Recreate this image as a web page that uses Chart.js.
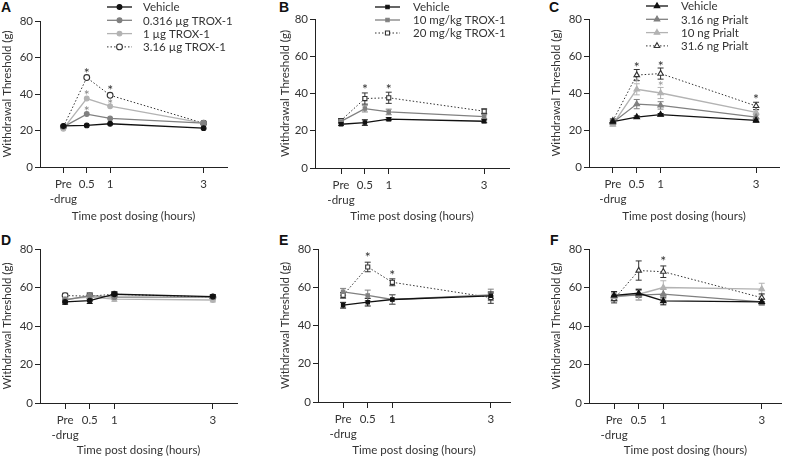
<!DOCTYPE html>
<html>
<head>
<meta charset="utf-8">
<script src="https://cdn.jsdelivr.net/npm/chart.js@4.4.0/dist/chart.umd.min.js"></script>
<style>
    body { margin: 0; background: #fff; width: 787px; height: 459px; position: relative; overflow: hidden; }
    canvas { position: absolute; }
    .tag { position: absolute; font: bold 14px 'Liberation Sans', Arial, sans-serif; line-height: 14px; color: #111; }
</style>
</head>
<body>
<div class="tag" style="left:1px;top:0px">A</div>
<div class="tag" style="left:279px;top:0px">B</div>
<div class="tag" style="left:549px;top:0px">C</div>
<div class="tag" style="left:1px;top:233px">D</div>
<div class="tag" style="left:279px;top:233px">E</div>
<div class="tag" style="left:550px;top:233px">F</div>
<canvas id="chartA"></canvas>
<canvas id="chartB"></canvas>
<canvas id="chartC"></canvas>
<canvas id="chartD"></canvas>
<canvas id="chartE"></canvas>
<canvas id="chartF"></canvas>
<script>
// Withdrawal threshold figure - six panels

// x positions and tick labels
const timePoints = [0, 0.5, 1, 3];
const tickText = { '0': ['Pre', '-drug'], '0.5': '0.5', '1': '1', '3': '3' };
const yTicks = [0, 20, 40, 60, 80];

// legend labels
const troxItLabels = ['Vehicle', '0.316 µg TROX-1', '1 µg TROX-1', '3.16 µg TROX-1'];
const troxPoLabels = ['Vehicle', '10 mg/kg TROX-1', '20 mg/kg TROX-1'];
const prialtLabels = ['Vehicle', '3.16 ng Prialt', '10 ng Prialt', '31.6 ng Prialt'];

// Panel A
const aVehicle = [22.5, 22.8, 23.7, 21.3];
const aLow = [22, 29, 26.6, 24];
const aMid = [21, 37.5, 33.3, 24];
const aHigh = [22, 49, 39.3, 24];
const aStars = [[0.5, 53, '#333'], [0.5, 41, '#888'], [0.5, 32.3, '#888'], [1, 43.3, '#333'], [1, 35.8, '#888']];

// Panel B
const bVehicle = [23.5, 24.4, 26.2, 25.1];
const bLow = [25, 31.9, 30.1, 27.6];
const bHigh = [25.5, 37.3, 37.7, 30.5];
const bVehicleErr = [0.6, 1.5, 0.8, 0.8];
const bLowErr = [0.8, 1.8, 1.5, 1];
const bHighErr = [1, 3, 3, 1.2];
const bStars = [[0.5, 43.5, '#333'], [1, 43.5, '#333']];

// Panel C
const cVehicle = [24.5, 27, 28.3, 25.2];
const cLow = [24, 34, 33.3, 27];
const cMid = [23, 42, 40, 29.5];
const cHigh = [25, 49.7, 50.5, 33];
const cVehicleErr = [0.8, 0.6, 0.6, 1];
const cLowErr = [1, 2.5, 2, 1.2];
const cMidErr = [1, 3, 3, 1.5];
const cHighErr = [1, 3, 3, 2];
const cStars = [[0.5, 55.5, '#333'], [0.5, 46.5, '#999'], [1, 56, '#333'], [1, 45, '#999'], [3, 38, '#333']];

// Panel D
const dVehicle = [52.5, 53.2, 56.5, 55.3];
const dLow = [53.5, 55.8, 55, 55];
const dMid = [54, 55, 54, 53.5];
const dHigh = [55.8, 55.5, 56.5, 55];
const dErr = [1.2, 1.5, 1.2, 1];

// Panel E
const eVehicle = [50.6, 52.2, 53.6, 55.5];
const eLow = [57.6, 55.7, 53.6, 56];
const eHigh = [55.8, 70.6, 62.6, 54.6];
const eVehicleErr = [1.5, 2, 2.5, 1.5];
const eLowErr = [1.8, 2.8, 2.5, 3];
const eHighErr = [1.5, 2.5, 1.8, 3];
const eStars = [[0.5, 77, '#333'], [1, 67.8, '#333']];

// Panel F
const fVehicle = [55.9, 57, 53, 52.5];
const fLow = [55.5, 56, 56.6, 52.5];
const fMid = [55, 56.5, 60, 59.2];
const fHigh = [54, 68.8, 68.2, 54.7];
const fVehicleErr = [2, 2, 2, 1.5];
const fLowErr = [2, 2.5, 2.5, 1.5];
const fMidErr = [2, 3, 3.5, 3];
const fHighErr = [2, 5, 3, 2];
const fStars = [[1, 75, '#333']];

// series looks: solid black, dark grey, light grey, open with dotted line
const looks = [
    { color: '#111111', fill: '#111111', dash: [], width: 1.3 },
    { color: '#808080', fill: '#808080', dash: [], width: 1.3 },
    { color: '#b3b3b3', fill: '#b3b3b3', dash: [], width: 1.3 },
    { color: '#333333', fill: '#ffffff', dash: [1.5, 2], width: 1 }
];

const font = "Lato, 'Open Sans', sans-serif";
Chart.defaults.font.family = font;
Chart.defaults.color = '#333';

function series(label, values, errs, look, shape) {
    const l = looks[look];
    const r = shape === 'triangle' ? 3.2 : (look === 3 ? 2.9 : 2.4);
    return {
        label: label,
        data: timePoints.map((t, i) => ({ x: t, y: values[i] })),
        errors: errs,
        borderColor: l.color,
        backgroundColor: l.fill,
        borderDash: l.dash,
        borderWidth: l.width,
        pointStyle: shape,
        pointRadius: r,
        pointBorderWidth: 1.1,
        pointBorderColor: l.color,
        pointBackgroundColor: l.fill,
        tension: 0,
        fill: false
    };
}

// error bars under the markers
const errorBars = {
    id: 'errorBars',
    beforeDatasetsDraw(chart) {
        const { ctx, scales: { x, y } } = chart;
        chart.data.datasets.forEach(ds => {
            if (!ds.errors) return;
            ctx.save();
            ctx.strokeStyle = ds.borderColor;
            ctx.lineWidth = 1;
            ds.data.forEach((p, j) => {
                const e = ds.errors[j];
                if (!e) return;
                const px = x.getPixelForValue(p.x);
                const y1 = y.getPixelForValue(p.y + e);
                const y2 = y.getPixelForValue(p.y - e);
                ctx.beginPath();
                ctx.moveTo(px, y1); ctx.lineTo(px, y2);
                ctx.moveTo(px - 3, y1); ctx.lineTo(px + 3, y1);
                ctx.moveTo(px - 3, y2); ctx.lineTo(px + 3, y2);
                ctx.stroke();
            });
            ctx.restore();
        });
    }
};

// significance asterisks
const stars = {
    id: 'stars',
    afterDatasetsDraw(chart, args, opts) {
        if (!opts.marks) return;
        const { ctx, scales: { x, y } } = chart;
        ctx.save();
        ctx.font = '14px ' + font;
        ctx.textAlign = 'center';
        ctx.textBaseline = 'middle';
        opts.marks.forEach(m => {
            ctx.fillStyle = m[2];
            ctx.fillText('*', x.getPixelForValue(m[0]), y.getPixelForValue(m[1]) + 3);
        });
        ctx.restore();
    }
};

// small legend drawn inside the panel
const miniLegend = {
    id: 'miniLegend',
    afterDraw(chart, args, opts) {
        if (!opts.show) return;
        const ctx = chart.ctx;
        ctx.save();
        chart.data.datasets.forEach((ds, i) => {
            const yy = opts.y + i * opts.step;
            ctx.strokeStyle = ds.borderColor;
            ctx.lineWidth = ds.borderWidth;
            ctx.setLineDash(ds.borderDash);
            ctx.beginPath();
            ctx.moveTo(opts.x1, yy);
            ctx.lineTo(opts.x2, yy);
            ctx.stroke();
            ctx.setLineDash([]);
            ctx.fillStyle = ds.pointBackgroundColor;
            ctx.strokeStyle = ds.pointBorderColor;
            ctx.lineWidth = 1.1;
            Chart.helpers.drawPoint(ctx, { pointStyle: ds.pointStyle, radius: ds.pointRadius, borderWidth: 1.1, rotation: 0 }, (opts.x1 + opts.x2) / 2, yy);
            ctx.fillStyle = '#333';
            ctx.font = '11.5px ' + font;
            ctx.textAlign = 'left';
            ctx.textBaseline = 'middle';
            ctx.fillText(ds.label, opts.tx, yy + 0.5);
        });
        ctx.restore();
    }
};

function makePanel(id, p, datasets, marks, legend) {
    const canvas = document.getElementById(id);
    canvas.width = p.w;
    canvas.height = p.h;
    canvas.style.left = p.left + 'px';
    canvas.style.top = p.top + 'px';
    return new Chart(canvas, {
        type: 'line',
        data: { datasets: datasets },
        plugins: [errorBars, stars, miniLegend],
        options: {
            responsive: false,
            animation: false,
            layout: { padding: { left: 0, top: p.area[1], right: p.w - p.area[2], bottom: 0 } },
            plugins: {
                legend: { display: false },
                tooltip: { enabled: false },
                stars: { marks: marks },
                miniLegend: legend || { show: false }
            },
            scales: {
                x: {
                    type: 'linear',
                    min: p.xMin,
                    max: p.xMax,
                    afterBuildTicks: s => { s.ticks = timePoints.map(v => ({ value: v })); },
                    afterFit: s => { s.height = p.h - p.area[3]; },
                    ticks: {
                        callback: v => tickText[String(v)],
                        autoSkip: false,
                        maxRotation: 0,
                        padding: 4,
                        color: '#333',
                        font: { size: 11.5, lineHeight: 1.3 }
                    },
                    grid: { drawOnChartArea: false, tickLength: 6, color: '#222' },
                    border: { color: '#222', width: 1 },
                    title: {
                        display: true,
                        text: 'Time post dosing (hours)',
                        color: '#333',
                        font: { size: 11.5 },
                        padding: { top: 0, bottom: p.h - p.xTitleY - 6.9 }
                    }
                },
                y: {
                    min: 0,
                    max: 80,
                    afterBuildTicks: s => { s.ticks = yTicks.map(v => ({ value: v })); },
                    afterFit: s => { s.width = p.area[0]; },
                    ticks: { padding: 2, color: '#333', font: { size: 11.5 } },
                    grid: { drawOnChartArea: false, tickLength: 5, color: '#222' },
                    border: { color: '#222', width: 1 },
                    title: {
                        display: true,
                        text: 'Withdrawal Threshold (g)',
                        color: '#333',
                        font: { size: 11.5 },
                        padding: { top: p.yTitleX - 6.9, bottom: 0 }
                    }
                }
            }
        }
    });
}

makePanel('chartA', { left: 0, top: 0, w: 262, h: 230, area: [40, 21, 227, 167], xMin: -0.5, xMax: 3.5, yTitleX: 7, xTitleY: 216 }, [
    series(troxItLabels[0], aVehicle, null, 0, 'circle'),
    series(troxItLabels[1], aLow, null, 1, 'circle'),
    series(troxItLabels[2], aMid, null, 2, 'circle'),
    series(troxItLabels[3], aHigh, null, 3, 'circle')
], aStars, { show: true, x1: 107, x2: 132, tx: 143, y: 7, step: 13.3 });

makePanel('chartB', { left: 262, top: 0, w: 262, h: 230, area: [53, 19, 247, 168], xMin: -0.545, xMax: 3.52, yTitleX: 23, xTitleY: 216 }, [
    series(troxPoLabels[0], bVehicle, bVehicleErr, 0, 'rect'),
    series(troxPoLabels[1], bLow, bLowErr, 1, 'rect'),
    series(troxPoLabels[2], bHigh, bHighErr, 3, 'rect')
], bStars, { show: true, x1: 113, x2: 138, tx: 151, y: 7, step: 13 });

makePanel('chartC', { left: 524, top: 0, w: 263, h: 230, area: [65, 19, 255, 167], xMin: -0.5, xMax: 3.48, yTitleX: 32, xTitleY: 216 }, [
    series(prialtLabels[0], cVehicle, cVehicleErr, 0, 'triangle'),
    series(prialtLabels[1], cLow, cLowErr, 1, 'triangle'),
    series(prialtLabels[2], cMid, cMidErr, 2, 'triangle'),
    series(prialtLabels[3], cHigh, cHighErr, 3, 'triangle')
], cStars, { show: true, x1: 122, x2: 144, tx: 157, y: 6, step: 13.3 });

makePanel('chartD', { left: 0, top: 230, w: 262, h: 229, area: [40, 19, 237, 173], xMin: -0.51, xMax: 3.49, yTitleX: 7, xTitleY: 220 }, [
    series(troxItLabels[0], dVehicle, dErr, 0, 'circle'),
    series(troxItLabels[1], dLow, dErr, 1, 'circle'),
    series(troxItLabels[2], dMid, dErr, 2, 'circle'),
    series(troxItLabels[3], dHigh, dErr, 3, 'circle')
], [], null);

makePanel('chartE', { left: 262, top: 230, w: 262, h: 229, area: [56, 19, 248, 172], xMin: -0.51, xMax: 3.39, yTitleX: 23, xTitleY: 220 }, [
    series(troxPoLabels[0], eVehicle, eVehicleErr, 0, 'rect'),
    series(troxPoLabels[1], eLow, eLowErr, 1, 'rect'),
    series(troxPoLabels[2], eHigh, eHighErr, 3, 'rect')
], eStars, null);

makePanel('chartF', { left: 524, top: 230, w: 263, h: 229, area: [65, 19, 258, 173], xMin: -0.51, xMax: 3.41, yTitleX: 32, xTitleY: 220 }, [
    series(prialtLabels[0], fVehicle, fVehicleErr, 0, 'triangle'),
    series(prialtLabels[1], fLow, fLowErr, 1, 'triangle'),
    series(prialtLabels[2], fMid, fMidErr, 2, 'triangle'),
    series(prialtLabels[3], fHigh, fHighErr, 3, 'triangle')
], fStars, null);
</script>
</body>
</html>
